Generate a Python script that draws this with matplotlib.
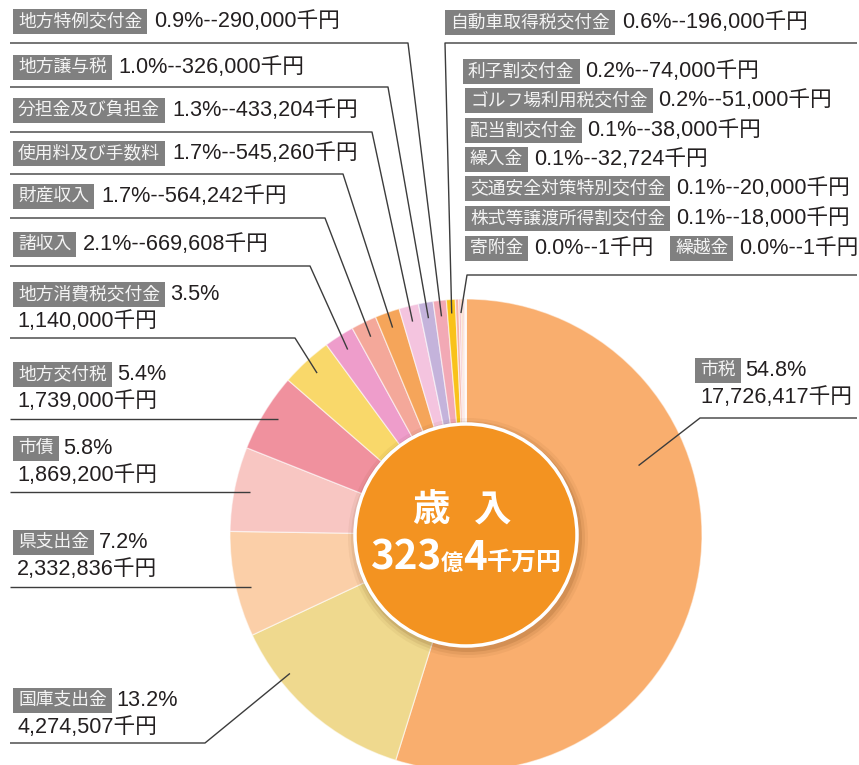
import math
import matplotlib.pyplot as plt
from matplotlib.patches import Circle, Rectangle

# revenue items, clockwise from 12 o'clock
names = ['市税', '国庫支出金', '県支出金', '市債', '地方交付税', '地方消費税交付金',
         '諸収入', '財産収入', '使用料及び手数料', '分担金及び負担金', '地方譲与税',
         '地方特例交付金', '自動車取得税交付金', '利子割交付金', 'ゴルフ場利用税交付金',
         '配当割交付金', '繰入金', '交通安全対策特別交付金', '株式等譲渡所得割交付金',
         '寄附金', '繰越金']
amounts = [17726417, 4274507, 2332836, 1869200, 1739000, 1140000, 669608, 564242,
           545260, 433204, 326000, 290000, 196000, 74000, 51000, 38000, 32724,
           20000, 18000, 1, 1]  # 千円
colors = ['#F9AE6E', '#EFD98E', '#FBCFA8', '#F8C6C2', '#F0919E', '#F9D86A',
          '#EE9DCB', '#F4A89A', '#F5A55A', '#F4C4DF', '#C4B3DB', '#F2A9B5',
          '#F9C21A', '#F6B3A6', '#F4C0C8', '#F8BE94', '#F3B1B9', '#F7C9A8',
          '#F5B8C6', '#F9AE6E', '#F9AE6E']
title_chars = ['歳', '入']
total_label = ['323', '億', '4', '千万円']

W, H = 859, 765
CX, CY, R = 466, 535, 236   # pixel coords, y from top

LATIN = ['Liberation Sans', 'Noto Sans CJK JP']
CJK = ['Noto Sans CJK JP', 'DejaVu Sans']
INK = '#231F20'
LINE = '#3C3C3C'
BOX = '#808080'

total = sum(amounts)
pcts = [a / total * 100 for a in amounts]


def py(y):
    return H - y


fig = plt.figure(figsize=(W / 100, H / 100), dpi=100)
ax = fig.add_axes([0, 0, 1, 1])
wedges, _ = ax.pie(amounts, colors=colors, startangle=90, counterclock=False,
                   center=(CX, py(CY)), radius=R, frame=True,
                   wedgeprops=dict(edgecolor=(1, 1, 1, 0.55), linewidth=0.9))
ax.set_xlim(0, W)
ax.set_ylim(0, H)
ax.set_aspect('equal')
ax.axis('off')
renderer = fig.canvas.get_renderer()

# center circle with soft shadow
for k, a in [(9, 0.05), (6, 0.08), (3, 0.12)]:
    ax.add_patch(Circle((CX + 2, py(CY) - 3), 111 + k, fc='#5a2a00', ec='none',
                        alpha=a, zorder=4))
ax.add_patch(Circle((CX, py(CY)), 111, fc='#F39321', ec='white', lw=2.5, zorder=5))
for ch, x in zip(title_chars, [CX - 35, CX + 27]):
    ax.text(x, py(510), ch, color='white', fontsize=27, fontweight='bold',
            family=CJK, ha='center', va='center', zorder=6)
sizes = [29, 16, 29, 18]
parts = []
for s, fs in zip(total_label, sizes):
    t = ax.text(0, py(570), s, color='white', fontsize=fs, fontweight='bold',
                family=CJK, ha='left', va='baseline', zorder=6)
    parts.append(t)
widths = [t.get_window_extent(renderer).width for t in parts]
x = CX - sum(widths) / 2
for t, w in zip(parts, widths):
    t.set_x(x)
    x += w


def angle_point(f, r):
    ang = math.radians(90 - f * 360)
    return CX + r * math.cos(ang), CY - r * math.sin(ang)


def anchor(i, frac=0.5, r=220):
    cum = sum(amounts[:i]) / total
    return angle_point(cum + frac * amounts[i] / total, r)


def name_box(x, y, name):
    t = ax.text(x + 5, py(y), name, color='#F4F4F4', fontsize=12.8, family=CJK,
                ha='left', va='center', zorder=3)
    e = t.get_window_extent(renderer)
    ax.add_patch(Rectangle((e.x0 - 5, py(y) - 12.5), e.width + 10, 25,
                           fc=BOX, ec='none', zorder=2))
    return e.x1 + 5


def value_text(x, y, s):
    ax.text(x, py(y), s, color=INK, fontsize=15.6, family=LATIN,
            ha='left', va='center', zorder=3)


def leader(pts):
    ax.plot([p[0] for p in pts], [py(p[1]) for p in pts], color=LINE, lw=1,
            zorder=3, solid_capstyle='butt')


def amt(i):
    return f'{amounts[i]:,}千円'


def pct(i):
    return f'{pcts[i]:.1f}%'


# left column: (index, text y, underline y, knee x, two lines)
left = [(11, 21, 43, 408, False), (10, 67, 87, 388, False),
        (9, 110, 132, 372, False), (8, 153, 174, 343, False),
        (7, 196, 218, 325, False), (6, 244, 266, 310, False),
        (5, 294, 338, 295, True), (4, 374, 419, None, True),
        (3, 448, 492, None, True), (2, 542, 587, None, True),
        (1, 700, 743, 205, True)]
anchor_opts = {0: (0.345, 186), 1: (0.725, 224)}

for i, ty, ly, knee, two in left:
    x1 = name_box(13, ty, names[i])
    if two:
        value_text(x1 + 5, ty, pct(i))
        value_text(17, ty + 27, amt(i))
    else:
        value_text(x1 + 7, ty, f'{pct(i)}--{amt(i)}')
    a = anchor(i, *anchor_opts.get(i, (0.5, 220)))
    if knee is None:
        leader([(10, ly), (a[0], ly)])
    else:
        leader([(10, ly), (knee, ly), a])

# 市税
x1 = name_box(695, 370, names[0])
value_text(x1 + 5, 370, pct(0))
value_text(700, 397, amt(0))
leader([(857, 418), (700, 418), anchor(0, *anchor_opts[0])])

# 自動車取得税交付金
x1 = name_box(445, 22, names[12])
value_text(x1 + 7, 22, f'{pct(12)}--{amt(12)}')
leader([(857, 43), (445, 43), anchor(12, 0.5, 222)])

# small items group
rows = [(13, 463, 71), (14, 465, 100), (15, 465, 130), (16, 465, 159),
        (17, 465, 188), (18, 465, 218), (19, 465, 248), (20, 670, 248)]
for i, x, y in rows:
    x1 = name_box(x, y, names[i])
    value_text(x1 + 6, y, f'{pct(i)}--{amt(i)}')
small_mid = (sum(amounts[:13]) / total + 1) / 2
leader([(857, 275), (467, 275), angle_point(small_mid, 222)])

fig.savefig('out.png', dpi=100, facecolor='white')
